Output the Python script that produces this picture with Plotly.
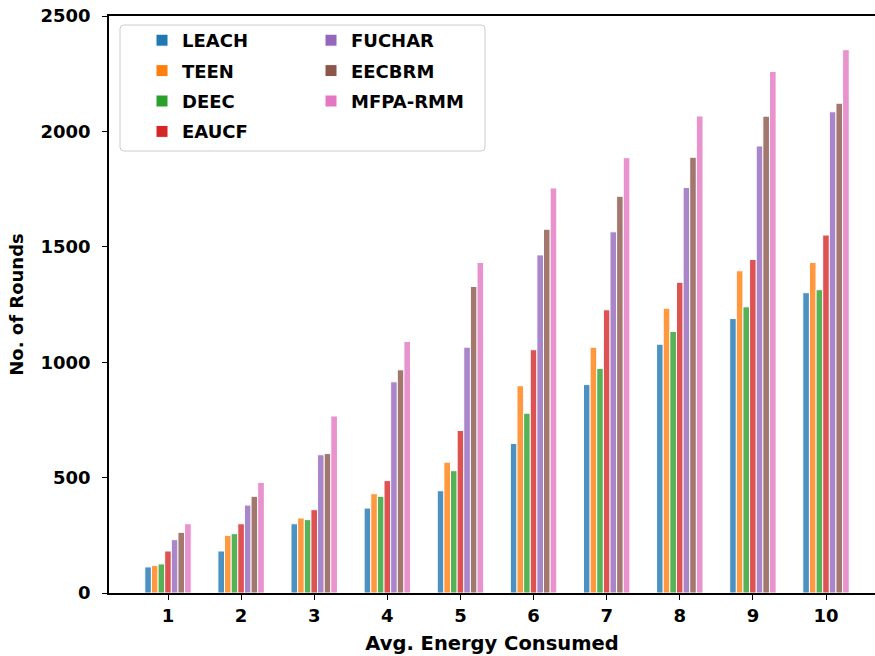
import plotly.graph_objects as go

categories = [1, 2, 3, 4, 5, 6, 7, 8, 9, 10]
tick_labels = ["1", "2", "3", "4", "5", "6", "7", "8", "9", "10"]

LEACH = [113, 182, 300, 368, 443, 648, 903, 1078, 1189, 1301]
TEEN = [119, 250, 325, 430, 567, 898, 1065, 1234, 1396, 1432]
DEEC = [126, 257, 318, 419, 530, 779, 973, 1133, 1240, 1314]
EAUCF = [182, 300, 361, 487, 704, 1054, 1227, 1346, 1445, 1551]
FUCHAR = [231, 381, 599, 915, 1065, 1465, 1565, 1757, 1937, 2085]
EECBRM = [263, 419, 604, 967, 1328, 1576, 1719, 1888, 2066, 2122]
MFPA_RMM = [300, 479, 767, 1090, 1432, 1755, 1886, 2067, 2260, 2354]

series = [
    ("LEACH", LEACH, "#1f77b4", "legend", 1),
    ("TEEN", TEEN, "#ff7f0e", "legend", 2),
    ("DEEC", DEEC, "#2ca02c", "legend", 3),
    ("EAUCF", EAUCF, "#d62728", "legend", 4),
    ("FUCHAR", FUCHAR, "#9467bd", "legend2", 5),
    ("EECBRM", EECBRM, "#8c564b", "legend2", 6),
    ("MFPA-RMM", MFPA_RMM, "#e377c2", "legend2", 7),
]

W, H = 875, 656
L, R, T, B = 109, 0, 16, 63
PW = W - L - R
PH = H - T - B

def px2x(px):
    return (px - L) / PW

def py2y(py):
    return (H - B - py) / PH

FONT = "DejaVu Sans"
FS = 18

fig = go.Figure()
for name, vals, color, leg, rank in series:
    fig.add_trace(go.Bar(
        x=categories, y=vals, name=name,
        marker=dict(color=color, opacity=0.8, line=dict(color="white", width=1)),
        legend=leg, legendrank=rank, legendgroup=name,
    ))

legfont = dict(family=FONT, size=FS, color="black", weight="bold")

# rounded legend frame
x0, x1, y0, y1, r = px2x(120), px2x(485), py2y(25), py2y(151), 4
rx, ry = r / PW, r / PH
path = (f"M{x0+rx},{y0} L{x1-rx},{y0} Q{x1},{y0} {x1},{y0-ry} "
        f"L{x1},{y1+ry} Q{x1},{y1} {x1-rx},{y1} L{x0+rx},{y1} "
        f"Q{x0},{y1} {x0},{y1+ry} L{x0},{y0-ry} Q{x0},{y0} {x0+rx},{y0} Z")

fig.update_layout(
    width=W, height=H,
    margin=dict(l=L, r=R, t=T, b=B, pad=0),
    paper_bgcolor="white", plot_bgcolor="white",
    barmode="group", bargap=0.365, bargroupgap=0.0,
    font=dict(family=FONT, size=FS, color="black", weight="bold"),
    shapes=[dict(type="path", path=path, xref="paper", yref="paper",
                 line=dict(color="#cccccc", width=1), fillcolor="rgba(255,255,255,0.8)",
                 layer="above")],
    legend=dict(x=px2x(142), y=py2y(22), xanchor="left", yanchor="top",
                bgcolor="rgba(0,0,0,0)", font=legfont, itemwidth=30,
                tracegroupgap=4),
    legend2=dict(x=px2x(311), y=py2y(22), xanchor="left", yanchor="top",
                 bgcolor="rgba(0,0,0,0)", font=legfont, itemwidth=30,
                 tracegroupgap=4),
    xaxis=dict(
        range=[0.193, 10.67], tickvals=categories, ticktext=tick_labels,
        showline=True, linecolor="black", linewidth=1.5, mirror=True,
        ticks="outside", ticklen=5, tickwidth=1.2, tickcolor="black",
        showgrid=False, zeroline=False, automargin=False,
        ticklabelstandoff=1,
        tickfont=dict(family=FONT, size=FS, color="black", weight="bold"),
        title=dict(text="Avg. Energy Consumed", standoff=11,
                   font=dict(family=FONT, size=19.5, color="black", weight="bold")),
    ),
    yaxis=dict(
        range=[0, 2500], tickvals=[0, 500, 1000, 1500, 2000, 2500],
        showline=True, linecolor="black", linewidth=1.5,
        ticks="outside", ticklen=5, tickwidth=1.2, tickcolor="black",
        showgrid=False, zeroline=False, automargin=False,
        ticklabelstandoff=8,
        tickfont=dict(family=FONT, size=FS, color="black", weight="bold"),
        title=dict(text="No. of Rounds", standoff=12,
                   font=dict(family=FONT, size=FS, color="black", weight="bold")),
    ),
)

fig.write_html("out.html", config={"displayModeBar": False},
               post_script="document.body.style.margin='0';")
